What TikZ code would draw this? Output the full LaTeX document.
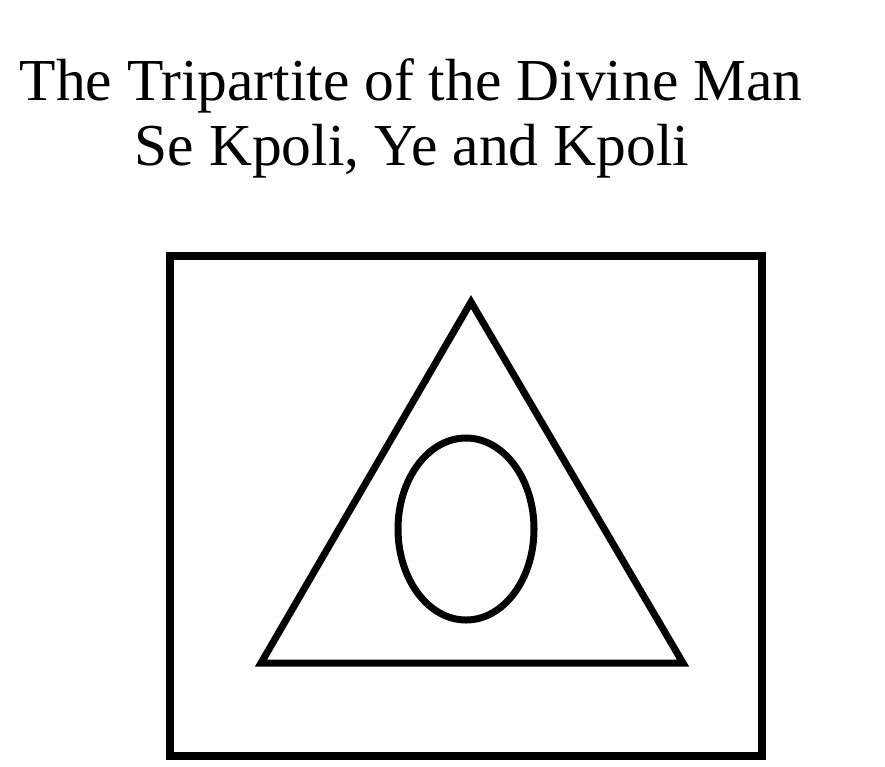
\documentclass[tikz,border=0pt]{standalone}
\usepackage{fontspec}
\setmainfont{Liberation Serif}
\begin{document}
\begin{tikzpicture}[x=1pt,y=-1pt,
  shape line/.style={draw=black,line width=7pt,line join=miter},
  titletext/.style={font=\fontsize{59.5}{64}\selectfont,inner sep=0pt,anchor=base}]
\useasboundingbox (0,0) rectangle (885,766);
\node[titletext] (t1) at (411,100) {The Tripartite of the Divine Man};
\node[titletext] (t2) at (412,165) {Se Kpoli, Ye and Kpoli};
\draw[shape line,line width=8pt] (170,256) rectangle (762,756);
\draw[shape line] (471,302) -- (683,663) -- (261,663) -- cycle;
\draw[shape line] (466,529) ellipse [x radius=68, y radius=91];
\end{tikzpicture}
\end{document}
